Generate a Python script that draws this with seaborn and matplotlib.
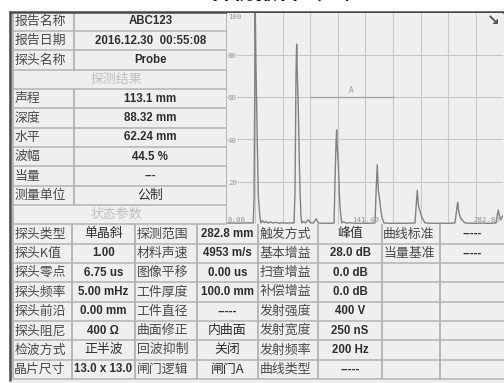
import matplotlib
matplotlib.use("Agg")
import matplotlib.pyplot as plt
from matplotlib import font_manager as fm
from matplotlib.patches import Rectangle
import pandas as pd
import seaborn as sns

# ---------------- data ----------------
report_labels = ["报告名称", "报告日期", "探头名称"]
report_values = ["ABC123", "2016.12.30  00:55:08", "Probe"]
result_title = "探测结果"
result_labels = ["声程", "深度", "水平", "波幅", "当量", "测量单位"]
result_values = ["113.1 mm", "88.32 mm", "62.24 mm", "44.5 %", "---", "公制"]
status_title = "状态参数"

param_labels_1 = ["探头类型", "探头K值", "探头零点", "探头频率", "探头前沿", "探头阻尼", "检波方式", "晶片尺寸"]
param_values_1 = ["单晶斜", "1.00", "6.75 us", "5.00 mHz", "0.00 mm", "400 Ω", "正半波", "13.0 x 13.0"]
param_labels_2 = ["探测范围", "材料声速", "图像平移", "工件厚度", "工件直径", "曲面修正", "回波抑制", "闸门逻辑"]
param_values_2 = ["282.8 mm", "4953 m/s", "0.00 us", "100.0 mm", "-----", "内曲面", "关闭", "闸门A"]
param_labels_3 = ["触发方式", "基本增益", "扫查增益", "补偿增益", "发射强度", "发射宽度", "发射频率", "曲线类型"]
param_values_3 = ["峰值", "28.0 dB", "0.0 dB", "0.0 dB", "400 V", "250 nS", "200 Hz", "-----"]
param_labels_4 = ["曲线标准", "当量基准", "", "", "", "", "", ""]
param_values_4 = ["-----", "-----", "", "", "", "", "", ""]

# A-scan waveform (distance in mm, amplitude in %)
wave_x = [0.0, 10.0, 20.0, 26.5, 27.3, 28.0, 28.3, 29.3, 30.6, 31.7, 33.4, 34.4,
          36.0, 38.0, 40.0, 42.0, 44.0, 47.0, 50.0, 53.0, 56.0, 60.0, 64.0, 68.3,
          69.3, 70.3, 71.0, 71.6, 72.7, 73.7, 74.4, 75.4, 76.2,
          78.0, 80.0, 83.0, 85.0, 88.0, 91.0, 93.0, 96.0, 100.0, 105.0, 109.3,
          110.3, 111.3, 112.0, 112.6, 113.7, 114.7, 115.4, 117.2,
          119.0, 122.0, 126.0, 130.0, 136.0, 142.0, 147.0, 151.3,
          152.3, 153.6, 154.7, 155.7, 156.9, 158.5, 160.5,
          164.0, 170.0, 176.0, 182.0, 188.0, 192.3,
          193.7, 194.6, 195.7, 197.4, 199.5, 202.5,
          207.0, 214.0, 220.0, 226.0, 233.2,
          234.8, 236.0, 237.4, 239.4, 243.5,
          248.0, 255.0, 262.0, 269.0, 275.3,
          276.6, 277.6, 278.8, 280.3, 282.4]
wave_y = [0.5, 0.4, 0.5, 0.5, 12.0, 60.0, 110.0, 75.0, 40.0, 13.0, 3.0, 0.5,
          1.5, 0.6, 1.2, 0.4, 1.0, 0.5, 0.8, 0.3, 0.6, 0.4, 0.5, 0.5,
          15.0, 70.0, 85.0, 72.0, 54.0, 30.0, 16.0, 4.0, 0.5,
          1.2, 0.5, 2.0, 0.6, 0.4, 2.5, 0.5, 0.3, 0.4, 0.3, 0.5,
          20.0, 38.0, 44.5, 36.0, 29.0, 15.0, 8.0, 0.5,
          1.0, 0.4, 0.6, 0.3, 0.4, 0.3, 0.4, 0.5,
          14.0, 28.0, 16.0, 13.0, 8.0, 3.0, 0.5,
          0.4, 0.3, 0.4, 0.3, 0.4, 0.5,
          10.0, 16.0, 9.0, 6.0, 3.0, 0.5,
          0.4, 0.3, 0.4, 0.3, 0.5,
          6.0, 10.3, 5.0, 2.5, 0.5,
          0.4, 0.3, 0.4, 0.3, 0.5,
          4.0, 6.6, 4.0, 2.0, 4.0]
x_max = 282.8
x_tick_labels = ["0.00", "141.40", "282.80"]
y_grid = [20, 40, 60, 80]
y_tick_labels = ["20", "40", "60", "80", "100"]
gate_start, gate_end, gate_level = 84.5, 170.8, 60
gate_name = "A"
title_text = "探伤报告（二）"

# ---------------- style ----------------
sns.set_style("white")
plt.rcParams["font.family"] = ["Noto Sans CJK SC", "DejaVu Sans"]


def has_font(name):
    try:
        fm.findfont(fm.FontProperties(family=name), fallback_to_default=False)
        return True
    except Exception:
        return False


NARROW = has_font("Liberation Sans Narrow")
VAL_FAMILY = (["Liberation Sans Narrow", "Noto Sans CJK SC"] if NARROW
              else ["Liberation Sans", "Noto Sans CJK SC"])
VAL_SIZE = 9.6 if NARROW else 8.3
CJK_VAL_SIZE = 9.3
LBL_SIZE = 9.3
LBL_COLOR = "#4a4a4a"
VAL_COLOR = "#2e2e2e"
HDR_COLOR = "#c0c0c0"
LINE_COLOR = "#b2b2b2"
PANEL = "#efefef"

W, H = 504, 383
fig = plt.figure(figsize=(W / 100, H / 100), dpi=100, facecolor="white")
bg = fig.add_axes([0, 0, 1, 1])
bg.set_xlim(0, W)
bg.set_ylim(H, 0)
bg.axis("off")

# frame
bg.add_patch(Rectangle((9, 11), W - 9, H - 11, facecolor=PANEL, edgecolor="none", zorder=0))
bg.plot([9, W], [11.5, 11.5], color="#4a4a4a", lw=1.8, zorder=5, solid_capstyle="butt")
bg.plot([9.8, 9.8], [11, 381], color="#4a4a4a", lw=1.8, zorder=5, solid_capstyle="butt")

# title (mostly cut off at the top of the image, as in the reference)
fig.text(289 / W, 1 - 3.5 / H, title_text, ha="center", va="bottom", fontsize=16,
         fontweight="bold", color="#111111")


def is_cjk(s):
    return any("\u4e00" <= c <= "\u9fff" for c in s)


def value_text(x, y, s):
    if not s:
        return
    if is_cjk(s):
        bg.text(x, y, s, ha="center", va="center", family=VAL_FAMILY[::-1],
                fontsize=CJK_VAL_SIZE, fontweight="normal", color=VAL_COLOR, zorder=6)
    else:
        bg.text(x, y, s, ha="center", va="center", family=VAL_FAMILY, fontsize=VAL_SIZE,
                fontweight="bold", color=VAL_COLOR, zorder=6)


def label_text(x, y, s):
    if not s:
        return
    bg.text(x, y, s, ha="left", va="center", fontsize=LBL_SIZE, color=LBL_COLOR, zorder=6)


def hline(x0, x1, y):
    bg.plot([x0, x1], [y, y], color=LINE_COLOR, lw=1.1, zorder=4, solid_capstyle="butt")


def vline(x, y0, y1):
    bg.plot([x, x], [y0, y1], color=LINE_COLOR, lw=1.3, zorder=4, solid_capstyle="butt")


# ---------------- top-left table ----------------
TL_X0, TL_SPLIT, TL_X1 = 12.7, 74.0, 226.7
row_h = 19.33
top_rows = ([("row", l, v) for l, v in zip(report_labels, report_values)]
            + [("hdr", result_title, None)]
            + [("row", l, v) for l, v in zip(result_labels, result_values)]
            + [("hdr", status_title, None)])
y = 11.7
for kind, lab, val in top_rows:
    y0, y1 = y, y + row_h
    yc = (y0 + y1) / 2
    if kind == "row":
        vline(TL_SPLIT, y0, y1)
        label_text(TL_X0 + 1.5, yc, lab)
        value_text((TL_SPLIT + TL_X1) / 2, yc, val)
    else:
        bg.text((TL_X0 + TL_X1) / 2 - 3, yc, lab, ha="center", va="center",
                fontsize=LBL_SIZE, color=HDR_COLOR, zorder=6)
    hline(TL_X0, TL_X1, y1)
    y = y1
vline(TL_X0, 11.7, y)
vline(TL_X1, 11.7, y)

# ---------------- bottom table ----------------
col_edges = [12.7, 71.7, 135.0, 196.7, 258.3, 318.3, 381.7, 440.0, 504.0]
columns = [param_labels_1, param_values_1, param_labels_2, param_values_2,
           param_labels_3, param_values_3, param_labels_4, param_values_4]
b_y0 = y
n_rows = len(param_labels_1)
for r in range(n_rows):
    y0 = b_y0 + r * row_h
    y1 = y0 + row_h
    yc = (y0 + y1) / 2
    for c, col in enumerate(columns):
        if c % 2 == 0:
            label_text(col_edges[c] + 1.5, yc, col[r])
        else:
            value_text((col_edges[c] + col_edges[c + 1]) / 2, yc, col[r])
    hline(col_edges[0], col_edges[-1], y1)
for xe in col_edges[:-1]:
    vline(xe, b_y0, b_y0 + n_rows * row_h)

# ---------------- A-scan waveform ----------------
def px_rect(x0, y0, x1, y1):
    return [x0 / W, 1 - y1 / H, (x1 - x0) / W, (y1 - y0) / H]


ax = fig.add_axes(px_rect(227.4, 12.5, 503.3, 224.0))
ax.set_facecolor(PANEL)
for s in ax.spines.values():
    s.set_visible(False)
for k in range(1, 10):
    ax.axvline(k * x_max / 10, color="#c9c9c9", lw=0.8, zorder=1)
for v in y_grid:
    ax.axhline(v, color="#c9c9c9", lw=0.8, zorder=1)

ax.plot([gate_start, gate_end], [gate_level, gate_level], color="#a2a2a2", lw=0.9, zorder=2)
ax.text((gate_start + gate_end) / 2 - 1, gate_level + 1.2, gate_name, ha="center", va="bottom",
        family="DejaVu Sans Mono", fontsize=5.5, color="#9c9c9c")

wave = pd.DataFrame({"dist": wave_x, "amp": wave_y})
sns.lineplot(data=wave, x="dist", y="amp", ax=ax, color="#828282", lw=1.0,
             estimator=None, sort=False, zorder=3)
ax.set_xlabel("")
ax.set_ylabel("")
ax.set_xticks([])
ax.set_yticks([])
ax.set_xlim(0, x_max)
ax.set_ylim(0, 100)

mono = dict(family="DejaVu Sans Mono", fontsize=5.3, color="#979797", zorder=4)
for v, t in zip(y_grid + [100], y_tick_labels):
    if v == 100:
        ax.text(0.6, 99.3, t, ha="left", va="top", **mono)
    else:
        ax.text(0.6, v - 0.6, t, ha="left", va="center",
                bbox=dict(facecolor=PANEL, edgecolor="none", pad=0.3), **mono)
ax.text(0.6, 0.6, x_tick_labels[0], ha="left", va="bottom", **mono)
ax.text(x_max / 2, 0.6, x_tick_labels[1], ha="center", va="bottom", **mono)
ax.text(x_max - 3, 0.6, x_tick_labels[2], ha="right", va="bottom", **mono)

# corner arrow icon
fig.text(493 / W, 1 - 21 / H, "↘", ha="center", va="center", family="DejaVu Sans",
         fontsize=11, fontweight="bold", color="#505050")

fig.savefig("out.png", dpi=100, facecolor="white")
